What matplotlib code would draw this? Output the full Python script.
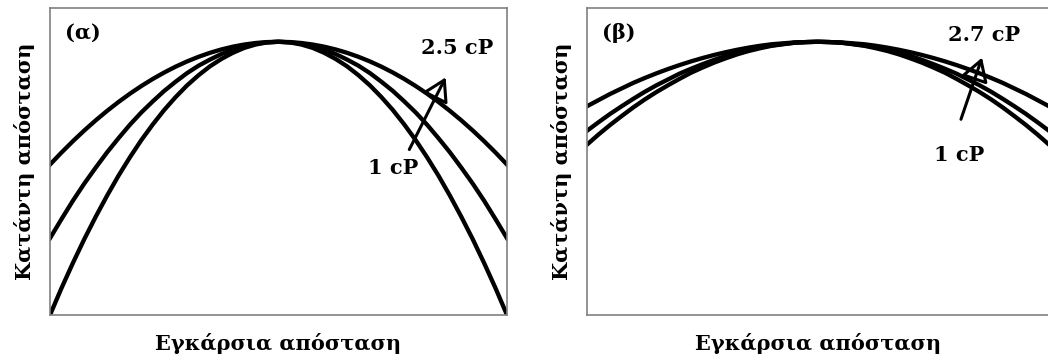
import matplotlib.pyplot as plt
import numpy as np
from matplotlib.patches import FancyArrowPatch

# transverse position, left edge to centre (profiles are symmetric)
x_half = [-1.0, -0.95, -0.9, -0.85, -0.8, -0.75, -0.7, -0.65, -0.6, -0.55, -0.5,
          -0.45, -0.4, -0.35, -0.3, -0.25, -0.2, -0.15, -0.1, -0.05, 0.0]

# panel (a): 1 cP -> 2.5 cP
a_1cP = [0.000, 0.087, 0.169, 0.247, 0.320, 0.389, 0.454, 0.514, 0.570, 0.621, 0.668,
         0.710, 0.748, 0.781, 0.810, 0.834, 0.854, 0.870, 0.881, 0.888, 0.890]
a_mid = [0.250, 0.312, 0.372, 0.428, 0.480, 0.530, 0.576, 0.620, 0.660, 0.696, 0.730,
         0.760, 0.788, 0.812, 0.832, 0.850, 0.864, 0.876, 0.884, 0.888, 0.890]
a_25cP = [0.490, 0.529, 0.566, 0.601, 0.634, 0.665, 0.694, 0.721, 0.746, 0.769, 0.790,
          0.809, 0.826, 0.841, 0.854, 0.865, 0.874, 0.881, 0.886, 0.889, 0.890]

# panel (b): 1 cP -> 2.7 cP
b_1cP = [0.555, 0.588, 0.619, 0.648, 0.676, 0.702, 0.726, 0.748, 0.769, 0.789, 0.806,
         0.822, 0.836, 0.849, 0.860, 0.869, 0.877, 0.882, 0.887, 0.889, 0.890]
b_mid = [0.600, 0.628, 0.655, 0.680, 0.704, 0.727, 0.748, 0.767, 0.786, 0.802, 0.817,
         0.831, 0.844, 0.854, 0.864, 0.872, 0.878, 0.883, 0.887, 0.889, 0.890]
b_27cP = [0.680, 0.700, 0.720, 0.738, 0.756, 0.772, 0.787, 0.801, 0.814, 0.826, 0.837,
          0.847, 0.856, 0.864, 0.871, 0.877, 0.882, 0.885, 0.888, 0.889, 0.890]


def mirror(half):
    return list(half) + list(half[-2::-1])


x_full = list(x_half) + [-v for v in x_half[-2::-1]]

plt.rcParams['font.family'] = ['DejaVu Serif']
plt.rcParams['font.weight'] = 'bold'

fig = plt.figure(figsize=(10.48, 3.6), dpi=100)
W, H = 1048, 360


def make_axes(left, right, top=8, bottom=315):
    ax = fig.add_axes([left / W, (H - bottom) / H, (right - left) / W, (bottom - top) / H])
    ax.set(xlim=(-1, 1), ylim=(0, 1), xticks=[], yticks=[])
    for s in ax.spines.values():
        s.set_color('#808080')
        s.set_linewidth(1.2)
    return ax


axA = make_axes(50, 507)
axB = make_axes(587, 1049)

for ax, curves in [(axA, [a_1cP, a_mid, a_25cP]), (axB, [b_1cP, b_mid, b_27cP])]:
    for c in curves:
        ax.plot(x_full, mirror(c), color='black', lw=3.1, solid_joinstyle='round')
    ax.set_xlabel('Εγκάρσια απόσταση', fontsize=15, fontweight='bold', labelpad=13)
    ax.set_ylabel('Κατάντη απόσταση', fontsize=15, fontweight='bold', labelpad=11)

arrow_style = '-|>,head_length=5,head_width=3'

# panel labels and viscosity annotations
axA.text(-0.934, 0.918, '(α)', fontsize=15, fontweight='bold', ha='left', va='center')
axA.text(0.781, 0.870, '2.5 cP', fontsize=15, fontweight='bold', ha='center', va='center')
axA.text(0.501, 0.479, '1 cP', fontsize=15, fontweight='bold', ha='center', va='center')
axA.add_patch(FancyArrowPatch((0.567, 0.531), (0.737, 0.782), arrowstyle=arrow_style,
                              mutation_scale=2.8, lw=2.2, fc='none', ec='black'))

axB.text(-0.935, 0.918, '(β)', fontsize=15, fontweight='bold', ha='left', va='center')
axB.text(0.719, 0.912, '2.7 cP', fontsize=15, fontweight='bold', ha='center', va='center')
axB.text(0.610, 0.521, '1 cP', fontsize=15, fontweight='bold', ha='center', va='center')
axB.add_patch(FancyArrowPatch((0.615, 0.629), (0.714, 0.847), arrowstyle=arrow_style,
                              mutation_scale=2.8, lw=2.2, fc='none', ec='black'))

fig.savefig('out.png', dpi=100)
